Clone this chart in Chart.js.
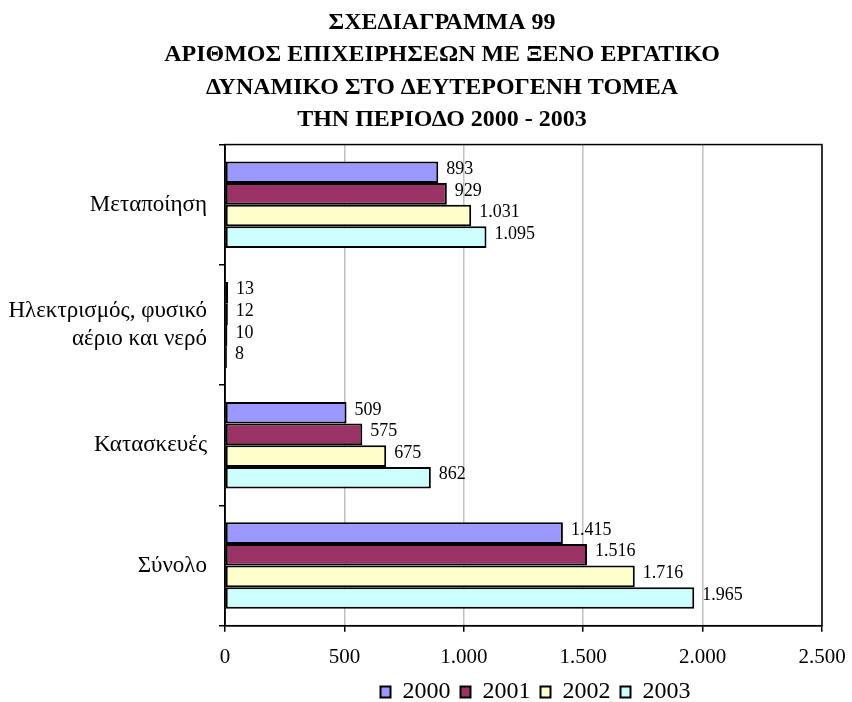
<!DOCTYPE html>
<html lang="el">
<head>
<meta charset="utf-8">
<title>Σχεδιάγραμμα 99</title>
<script src="https://cdn.jsdelivr.net/npm/chart.js@4.4.1/dist/chart.umd.min.js"></script>
<style>
  html, body { margin: 0; padding: 0; background: #ffffff; }
  #wrap { width: 852px; height: 702px; }
</style>
</head>
<body>
<div id="wrap"><canvas id="firmsChart" width="852" height="702"></canvas></div>
<script>
// =============== DATA ===============
const sectors = ['Μεταποίηση', ['Ηλεκτρισμός, φυσικό', 'αέριο και νερό'], 'Κατασκευές', 'Σύνολο'];
const years = ['2000', '2001', '2002', '2003'];
const firms2000 = [893, 13, 509, 1415];
const firms2001 = [929, 12, 575, 1516];
const firms2002 = [1031, 10, 675, 1716];
const firms2003 = [1095, 8, 862, 1965];
const xTicks = [0, 500, 1000, 1500, 2000, 2500];

const titleLines = [
    'ΣΧΕΔΙΑΓΡΑΜΜΑ 99',
    'ΑΡΙΘΜΟΣ ΕΠΙΧΕΙΡΗΣΕΩΝ ΜΕ ΞΕΝΟ ΕΡΓΑΤΙΚΟ',
    'ΔΥΝΑΜΙΚΟ ΣΤΟ ΔΕΥΤΕΡΟΓΕΝΗ ΤΟΜΕΑ',
    'ΤΗΝ ΠΕΡΙΟΔΟ 2000 - 2003'
];

// Χρώματα σειρών (παλέτα Excel)
const seriesColors = ['#9999FF', '#993366', '#FFFFCC', '#CCFFFF'];
const seriesValues = [firms2000, firms2001, firms2002, firms2003];

const serif = "'Liberation Serif', 'Times New Roman', serif";

// 1031 -> "1.031"
function fmt(v) {
    return String(v).replace(/\B(?=(\d{3})+(?!\d))/g, '.');
}

// =============== PLUGINS ===============
// Τιμές δεξιά από κάθε μπάρα
const barValueLabels = {
    id: 'barValueLabels',
    afterDatasetsDraw(chart) {
        const ctx = chart.ctx;
        ctx.save();
        ctx.font = '18px ' + serif;
        ctx.fillStyle = '#000000';
        ctx.textAlign = 'left';
        ctx.textBaseline = 'middle';
        chart.data.datasets.forEach((ds, i) => {
            chart.getDatasetMeta(i).data.forEach((bar, j) => {
                ctx.fillText(fmt(ds.data[j]), bar.x + 8, bar.y - 3);
            });
        });
        ctx.restore();
    }
};

// Πλαίσιο γύρω από την περιοχή σχεδίασης
const plotFrame = {
    id: 'plotFrame',
    afterDraw(chart) {
        const a = chart.chartArea;
        const ctx = chart.ctx;
        ctx.save();
        ctx.strokeStyle = '#000000';
        ctx.lineWidth = 1.5;
        ctx.strokeRect(a.left, a.top, a.right - a.left, a.bottom - a.top);
        ctx.restore();
    }
};

// Τίτλος και υπόμνημα τοποθετούνται μετά το layout
const blockShift = {
    id: 'blockShift',
    afterLayout(chart) {
        const a = chart.chartArea;
        const tb = chart.titleBlock;
        const dt = 442 - (tb.left + tb.right) / 2;
        tb.left += dt;
        tb.right += dt;

        const lg = chart.legend;
        const dl = (a.left + a.right) / 2 + 12 - (lg.left + lg.right) / 2;
        lg.left += dl;
        lg.right += dl;
        const dv = 692 - (lg.top + lg.height / 2);
        lg.top += dv;
        lg.bottom += dv;
    }
};

// =============== CHART ===============
const ctx = document.getElementById('firmsChart').getContext('2d');

new Chart(ctx, {
    type: 'bar',
    data: {
        labels: sectors,
        datasets: years.map((y, i) => ({
            label: y,
            data: seriesValues[i],
            backgroundColor: seriesColors[i],
            borderColor: '#000000',
            borderWidth: 2,
            borderSkipped: false,
            categoryPercentage: 0.72,
            barPercentage: 1.0
        }))
    },
    options: {
        indexAxis: 'y',
        responsive: false,
        devicePixelRatio: 1,
        animation: false,
        layout: {
            padding: { left: 0, right: 30, top: 0, bottom: -25 }
        },
        plugins: {
            title: {
                display: true,
                text: titleLines,
                color: '#000000',
                font: { family: serif, size: 24, weight: 'bold', lineHeight: 1.36 },
                padding: { top: 6, bottom: 8 }
            },
            legend: {
                display: true,
                position: 'bottom',
                labels: {
                    color: '#000000',
                    font: { family: serif, size: 24 },
                    boxWidth: 10,
                    boxHeight: 11,
                    padding: 10
                }
            },
            tooltip: { enabled: false }
        },
        scales: {
            x: {
                min: 0,
                max: 2500,
                afterBuildTicks(scale) {
                    scale.ticks = xTicks.map(v => ({ value: v }));
                },
                afterFit(scale) {
                    // η ετικέτα "2.500" μπορεί να βγει στο περιθώριο
                    scale.paddingRight = 0;
                },
                ticks: {
                    color: '#000000',
                    font: { family: serif, size: 21, lineHeight: 1.3 },
                    padding: 12,
                    maxRotation: 0,
                    callback: v => fmt(v)
                },
                grid: {
                    color: '#C0C0C0',
                    lineWidth: 1.5,
                    tickColor: '#000000',
                    tickLength: 6
                },
                border: { color: '#000000', width: 1.5 }
            },
            y: {
                afterFit(scale) {
                    scale.width = 225;
                },
                ticks: {
                    color: '#000000',
                    font: { family: serif, size: 23 },
                    padding: 12
                },
                grid: {
                    drawOnChartArea: false,
                    tickColor: '#000000',
                    tickLength: 6,
                    lineWidth: 1.5
                },
                border: { color: '#000000', width: 1.5 }
            }
        }
    },
    plugins: [barValueLabels, plotFrame, blockShift]
});
</script>
</body>
</html>
